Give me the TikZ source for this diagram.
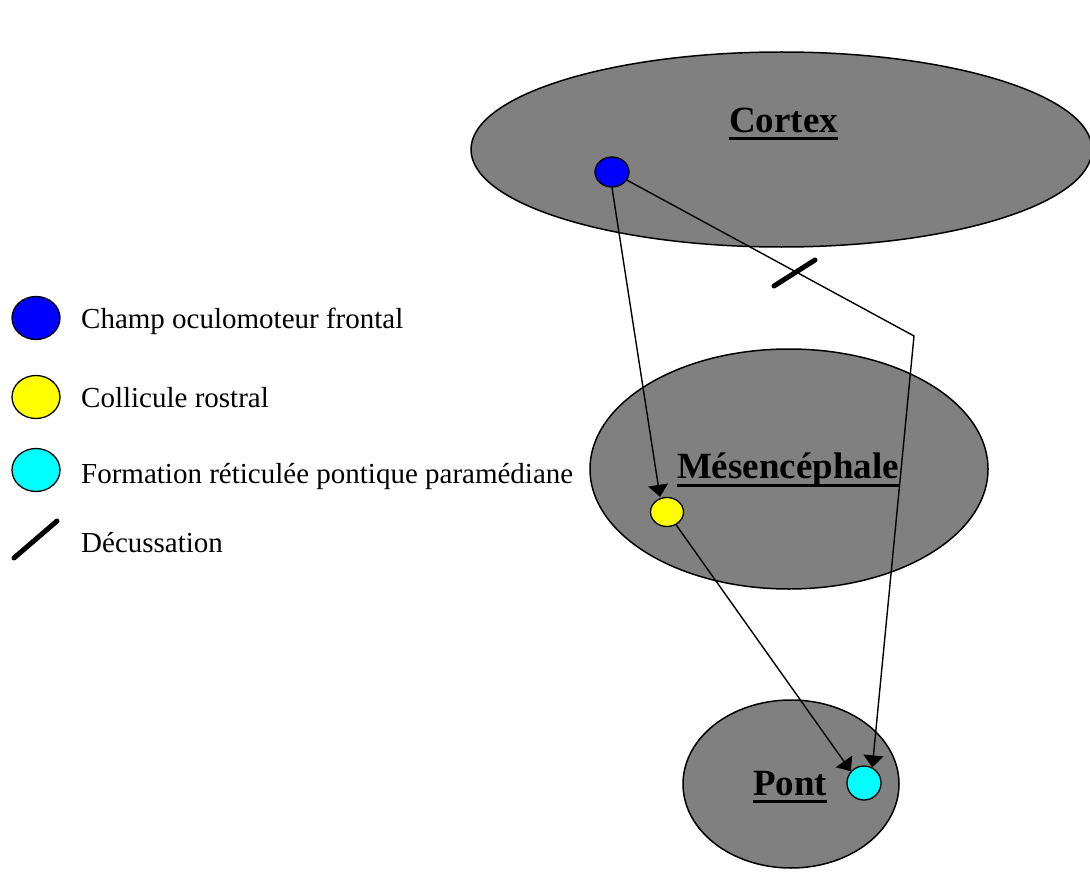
\documentclass[tikz,border=0pt]{standalone}
\usepackage{fontspec}
\setmainfont{Liberation Serif}
\usetikzlibrary{shapes.geometric,arrows.meta}
\tikzset{
  region/.style={ellipse, draw=black, line width=1.5pt, fill=regiongray, inner sep=0pt},
  dot/.style={ellipse, draw=black, line width=1.3pt, inner sep=0pt, minimum width=34pt, minimum height=30pt},
  legdot/.style={ellipse, draw=black, line width=1.3pt, inner sep=0pt, minimum width=48pt, minimum height=43pt},
  lbl/.style={anchor=base, inner sep=0pt, font=\fontsize{37}{40}\selectfont\bfseries},
  legtxt/.style={anchor=base west, inner sep=0pt, font=\fontsize{29}{34}\selectfont},
  conn/.style={draw=black, line width=1.4pt, -{Triangle[length=12pt,width=20pt]}},
  ul/.style={line width=3pt},
  decus/.style={line width=5pt, line cap=round}
}
\definecolor{regiongray}{HTML}{808080}
\definecolor{fefblue}{HTML}{0000FF}
\definecolor{scyellow}{HTML}{FFFF00}
\definecolor{pprcyan}{HTML}{00FFFF}
\begin{document}
\begin{tikzpicture}[x=1pt,y=-1pt]
\useasboundingbox (0,0) rectangle (1090,872);
\fill[white] (0,0) rectangle (1090,872);
% regions
\node[region, minimum width=621pt, minimum height=195pt] (cortex) at (781.5,149.5) {};
\node[region, minimum width=398pt, minimum height=240pt] (mesen) at (789,469) {};
\node[region, minimum width=216pt, minimum height=168pt] (pont) at (791,784) {};
% labels
\node[lbl] (lcortex) at (783.5,133) {Cortex};
\draw[ul] ([yshift=-6pt]lcortex.base west) -- ([yshift=-6pt]lcortex.base east);
\node[lbl] (lmesen) at (788,478) {Mésencéphale};
\draw[ul] ([yshift=-7pt]lmesen.base west) -- ([yshift=-7pt]lmesen.base east);
\node[lbl] (lpont) at (790,795) {Pont};
\draw[ul] ([yshift=-6pt]lpont.base west) -- ([yshift=-6pt]lpont.base east);
% dots
\node[dot, fill=fefblue] (fef) at (612,172) {};
\node[dot, fill=scyellow, minimum width=33pt, minimum height=29pt] (sc) at (667,512) {};
\node[dot, fill=pprcyan, minimum width=34pt, minimum height=34pt] (ppr) at (864,783) {};
\coordinate (corner) at (914,336);
% connectors
\draw[conn] (fef.south) -- ([xshift=-7pt]sc.north);
\draw[conn] (fef) -- (corner) -- (ppr.62);
\draw[conn] (sc) -- (ppr.138);
% decussation mark
\draw[decus] (774,286) -- (815,260);
% legend
\node[legdot, fill=fefblue] (lgfef) at (36,318) {};
\node[legdot, fill=scyellow] (lgsc) at (36,397) {};
\node[legdot, fill=pprcyan] (lgppr) at (36,470) {};
\draw[decus] (14,558) -- (57,521);
\node[legtxt] (t1) at (81,328) {Champ oculomoteur frontal};
\node[legtxt] (t2) at (81,407) {Collicule rostral};
\node[legtxt] (t3) at (81,483) {Formation réticulée pontique paramédiane};
\node[legtxt] (t4) at (81,552) {Décussation};
\end{tikzpicture}
\end{document}
